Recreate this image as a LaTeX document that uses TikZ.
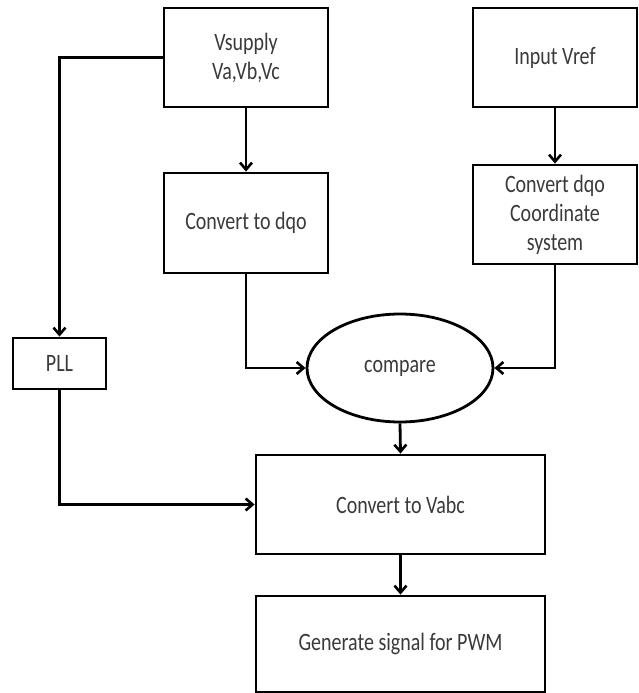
\documentclass[tikz,border=0pt]{standalone}
\usepackage{fontspec}
\setmainfont{Carlito}
\usepackage{graphicx}
\usepackage{tikz}
\usetikzlibrary{arrows.meta,shapes.geometric}
\definecolor{Ink}{RGB}{58,58,58}
\newcommand{\BoxText}{\fontsize{20}{29}\selectfont}
\newcommand{\Tall}[1]{\scalebox{1}[1.25]{#1}}% stretched label line

\begin{document}
\begin{tikzpicture}[x=1pt,y=-1pt,
  block/.style={draw,line width=2.8pt,align=center,text=Ink,font=\BoxText,inner sep=0pt},
  link/.style={line width=2.8pt,-{Straight Barb[length=7pt,width=12pt,line width=2.6pt]}}]
\useasboundingbox (0,0) rectangle (639,693);
% top row
\node[block,minimum width=164,minimum height=99] (vsup) at (246,57.5) {\Tall{Vsupply}\\\Tall{Va,Vb,Vc}};
\node[block,minimum width=164,minimum height=99] (vref) at (555,57.5) {\Tall{Input Vref}};
% conversions
\node[block,minimum width=164,minimum height=100] (dqo) at (246,223) {\Tall{Convert to dqo}};
\node[block,minimum width=164,minimum height=99] (cdqo) at (555,214.5) {\Tall{Convert dqo}\\\Tall{Coordinate}\\\Tall{system}};
\node[block,minimum width=93,minimum height=51] (pll) at (59.5,363.5) {\Tall{PLL}};
\node[block,ellipse,minimum width=186,minimum height=108] (cmp) at (400,368) {\Tall{compare}};
% output chain
\node[block,minimum width=289,minimum height=99] (vabc) at (400.5,504.5) {\Tall{Convert to Vabc}};
\node[block,minimum width=289,minimum height=96] (pwm) at (400.5,644) {\Tall{Generate signal for PWM}};
% connectors
\draw[link] (vsup.west) -| (pll.north);
\draw[link] (vsup.south) -- (dqo.north);
\draw[link] (vref.south) -- (cdqo.north);
\draw[link] (dqo.south) |- (cmp.west);
\draw[link] (cdqo.south) |- (cmp.east);
\draw[link] (pll.south) |- (vabc.west);
\draw[link] (cmp.south) -- (vabc.north);
\draw[link] (vabc.south) -- (pwm.north);
\end{tikzpicture}
\end{document}
